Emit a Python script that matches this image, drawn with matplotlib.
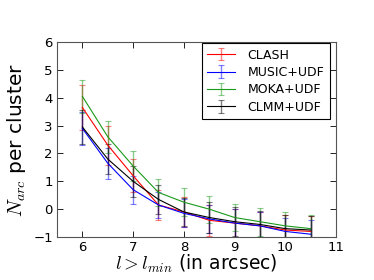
import matplotlib
matplotlib.use("Agg")
import matplotlib.pyplot as plt
import numpy as np

x = [6, 6.5, 7, 7.5, 8, 8.5, 9, 9.5, 10, 10.5]
labels = ["CLASH", "MUSIC+UDF", "MOKA+UDF", "CLMM+UDF"]
colors = ["red", "blue", "#1a9a1a", "black"]

clash = [3.65, 2.3, 1.2, 0.15, -0.1, -0.4, -0.5, -0.6, -0.75, -0.8]
clash_err = [0.8, 0.7, 0.6, 0.55, 0.55, 0.55, 0.5, 0.5, 0.55, 0.55]
music = [2.9, 1.65, 0.7, 0.15, -0.15, -0.35, -0.5, -0.6, -0.8, -0.9]
music_err = [0.6, 0.55, 0.5, 0.47, 0.5, 0.5, 0.5, 0.5, 0.5, 0.5]
moka = [4.05, 2.6, 1.55, 0.6, 0.25, 0.0, -0.3, -0.45, -0.6, -0.7]
moka_err = [0.6, 0.58, 0.53, 0.5, 0.5, 0.48, 0.5, 0.5, 0.48, 0.5]
clmm = [2.95, 1.8, 1.0, 0.35, -0.1, -0.3, -0.45, -0.55, -0.7, -0.75]
clmm_err = [0.6, 0.55, 0.55, 0.52, 0.5, 0.55, 0.52, 0.5, 0.5, 0.5]

series = [(clash, clash_err), (music, music_err), (moka, moka_err), (clmm, clmm_err)]

plt.rcParams['font.family'] = ['DejaVu Sans']
plt.rcParams['mathtext.fontset'] = 'cm'
fig = plt.figure(figsize=(3.74, 2.8), dpi=100)
ax = fig.add_axes([57/374, 1-237/280, (336-57)/374, (237-42)/280])

for (y, e), c, lab in zip(series, colors, labels):
    eb = ax.errorbar(x, y, yerr=e, color=c, lw=0.8, elinewidth=1.0, capsize=2,
                     capthick=0.8, label=lab)
    for l in eb[1]:
        l.set_alpha(0.5)
    for l in eb[2]:
        l.set_alpha(0.5)

ax.set_xlim(5.5, 11)
ax.set_ylim(-1, 6)
ax.set_xticks([6, 7, 8, 9, 10, 11])
ax.set_yticks([-1, 0, 1, 2, 3, 4, 5, 6])
ax.tick_params(direction='in', top=True, right=True, labelsize=9.5, length=4, width=0.6, pad=3)
for s in ax.spines.values():
    s.set_linewidth(0.8)
    s.set_color('#555555')
ax.set_xlabel(r'$l > l_{min}$ (in arcsec)', fontsize=13.5, labelpad=-1)
ax.set_ylabel(r'$N_{arc}$ per cluster', fontsize=14.5, labelpad=4)
leg = ax.legend(loc='upper right', fontsize=9, fancybox=False, framealpha=1,
                edgecolor='black', handlelength=2.2, borderpad=0.45, labelspacing=0.35,
                handletextpad=1.0, borderaxespad=0, bbox_to_anchor=(0.978, 0.995))
leg.get_frame().set_linewidth(0.8)

fig.savefig("out.png", dpi=100)
